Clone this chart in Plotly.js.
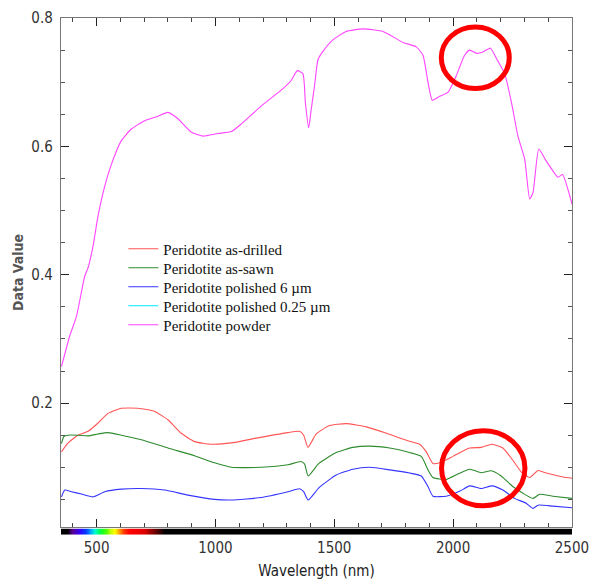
<!DOCTYPE html>
<html>
<head>
<meta charset="utf-8">
<script src="https://cdn.plot.ly/plotly-3.0.1.min.js"></script>
<style>html,body{margin:0;padding:0;background:#fff;}#chart{width:589px;height:581px;}</style>
</head>
<body>
<div id="chart"></div>
<script>
// ---- data ----
const seriesNames = ["Peridotite as-drilled","Peridotite as-sawn","Peridotite polished 6 \u00b5m","Peridotite polished 0.25 \u00b5m","Peridotite powder"];

const drilledWl = [352,379,421,464,506,548,604,674,744,800,856,912,983,1067,1165,1305,1354,1371,1389,1424,1480,1550,1635,1719,1803,1859,1887,1915,1943,1999,2069,2118,2164,2209,2251,2286,2322,2357,2392,2462,2500];
const drilledVal = [0.124,0.1375,0.150,0.156,0.169,0.184,0.192,0.192,0.187,0.174,0.153,0.140,0.136,0.138,0.145,0.154,0.156,0.150,0.131,0.152,0.165,0.168,0.163,0.153,0.142,0.136,0.124,0.106,0.107,0.117,0.130,0.131,0.136,0.130,0.111,0.093,0.084,0.095,0.091,0.085,0.083];

const sawnWl = [352,362,379,421,464,506,548,604,688,800,912,996,1067,1193,1305,1360,1375,1390,1435,1508,1578,1648,1733,1817,1866,1894,1915,1971,2020,2069,2118,2160,2202,2251,2294,2336,2364,2420,2500];
const sawnVal = [0.137,0.148,0.150,0.150,0.149,0.152,0.154,0.150,0.143,0.130,0.118,0.107,0.100,0.100,0.104,0.109,0.105,0.0865,0.106,0.123,0.131,0.133,0.130,0.123,0.117,0.096,0.084,0.081,0.0895,0.097,0.0915,0.0947,0.0865,0.070,0.0594,0.0516,0.058,0.055,0.0516];

const pol6Wl = [352,366,394,436,485,534,604,688,786,884,996,1067,1193,1305,1354,1371,1390,1435,1508,1578,1648,1733,1817,1866,1894,1915,1971,2027,2069,2118,2164,2209,2258,2307,2336,2357,2420,2500];
const pol6Val = [0.054,0.0645,0.062,0.0583,0.054,0.062,0.066,0.067,0.0645,0.0567,0.050,0.049,0.053,0.062,0.0666,0.062,0.049,0.068,0.088,0.097,0.100,0.096,0.091,0.0865,0.070,0.055,0.055,0.0625,0.071,0.067,0.071,0.0645,0.0516,0.044,0.036,0.041,0.0395,0.037];

// polished 0.25 um: not visible in the picture (hidden), legend entry only
const pol025Wl = [null];
const pol025Val = [null];

const powderWl = [352,387,415,450,464,485,506,534,562,604,646,702,758,800,842,899,947,1010,1067,1109,1193,1284,1319,1344,1368,1378,1392,1403,1417,1431,1452,1494,1550,1620,1705,1789,1845,1873,1894,1912,1943,1978,2013,2048,2069,2098,2125,2157,2182,2217,2245,2273,2301,2322,2336,2360,2392,2441,2460,2500];
const powderVal = [0.257,0.305,0.335,0.398,0.411,0.445,0.492,0.538,0.572,0.609,0.627,0.640,0.647,0.653,0.643,0.622,0.616,0.620,0.623,0.635,0.663,0.690,0.703,0.718,0.713,0.669,0.629,0.658,0.695,0.735,0.748,0.766,0.779,0.783,0.779,0.762,0.755,0.742,0.700,0.672,0.678,0.684,0.710,0.742,0.750,0.745,0.747,0.753,0.737,0.713,0.669,0.615,0.580,0.518,0.528,0.596,0.577,0.552,0.556,0.510];

// highlight circles [x0,x1,y0,y1] in data units
const highlights = [[1950,2236,0.690,0.786],[1951,2302,0.040,0.157]];

// visible-spectrum strip colour stops (wavelength nm, colour)
const spectrumStops = [[350,"#000000"],[375,"#000000"],[400,"#5a0090"],[430,"#3000ff"],[455,"#0040ff"],[475,"#00a0ff"],[495,"#00ffd0"],[515,"#00ff40"],[540,"#50ff00"],[560,"#c0ff00"],[578,"#ffff00"],[595,"#ffa000"],[615,"#ff3000"],[640,"#ff0000"],[700,"#e00000"],[740,"#800000"],[785,"#000000"],[2500,"#000000"]];

const xRange = [350, 2500];
const yRange = [0.007, 0.8];
const xTicks = [500,1000,1500,2000,2500];
const yTicks = [0.2,0.4,0.6,0.8];

// ---- build ----
const colors = ["#ff5555","#2e8b2e","#3535ff","#00e8ff","#ff44ff"];
const wls = [drilledWl, sawnWl, pol6Wl, pol025Wl, powderWl];
const vals = [drilledVal, sawnVal, pol6Val, pol025Val, powderVal];

const traces = [];
// strip heatmap
const stripX = [];
for (let w = xRange[0]; w <= 800; w += 4) stripX.push(w);
stripX.push(804, xRange[1]);
const csMin = xRange[0], csMax = xRange[1];
const colorscale = spectrumStops.map(s => [(s[0]-csMin)/(csMax-csMin), s[1]]);
traces.push({
  type: "heatmap", x: stripX, y: [0, 1], z: [stripX, stripX],
  colorscale: colorscale, zmin: csMin, zmax: csMax, showscale: false,
  xaxis: "x2", yaxis: "y2", hoverinfo: "skip", showlegend: false
});
const legendIds = ["legend","legend2","legend3","legend4","legend5"];
for (let k = 0; k < 5; k++) {
  traces.push({
    type: "scatter", mode: "lines", name: seriesNames[k],
    x: wls[k], y: vals[k],
    line: {color: colors[k], width: 1.1, shape: "spline", smoothing: 0.5},
    xaxis: "x", yaxis: "y", legend: legendIds[k], showlegend: true
  });
}

const shapes = highlights.map(h => ({
  type: "circle", xref: "x", yref: "y", x0: h[0], x1: h[1], y0: h[2], y1: h[3],
  line: {color: "#ff0000", width: 5}
}));

const tickFont = {family: "Liberation Sans Narrow, DejaVu Sans Condensed, sans-serif", size: 15, color: "#333333"};

const layout = {
  width: 589, height: 581,
  margin: {l: 61, r: 17, t: 18, b: 46},
  paper_bgcolor: "#ffffff", plot_bgcolor: "#ffffff",
  showlegend: true,
  xaxis: {
    range: xRange, domain: [0, 1], anchor: "y",
    showline: true, linecolor: "#777777", linewidth: 1.2, mirror: "allticks",
    ticks: "inside", ticklen: 8, tickcolor: "#222222", tickvals: xTicks,
    showticklabels: false, showgrid: false, zeroline: false,
    minor: {dtick: 100, tick0: 0, ticks: "inside", ticklen: 4, tickcolor: "#444444", showgrid: false}
  },
  yaxis: {
    range: yRange, domain: [0.0155, 1], anchor: "x",
    showline: true, linecolor: "#777777", linewidth: 1.2, mirror: "allticks",
    ticks: "inside", ticklen: 8, tickcolor: "#222222", tickvals: yTicks,
    tickfont: tickFont, ticklabelstandoff: 4,
    showgrid: false, zeroline: false,
    minor: {dtick: 0.05, tick0: 0, ticks: "inside", ticklen: 4, tickcolor: "#555555", showgrid: false},
    title: {text: "<b>Data Value</b>", font: {family: "DejaVu Sans Condensed, sans-serif", size: 14, color: "#555555"}, standoff: 4}
  },
  xaxis2: {
    range: [xRange[0], xRange[1] + 0.5], domain: [0, 1], anchor: "y2",
    showline: false, ticks: "", tickvals: xTicks, tickfont: tickFont,
    showgrid: false, zeroline: false, ticklabelstandoff: 2, ticklabeloverflow: "allow",
    title: {text: "Wavelength (nm)", font: {family: "DejaVu Sans Condensed, sans-serif", size: 15, color: "#222222"}, standoff: 9}
  },
  yaxis2: {
    domain: [0, 0.0125], anchor: "x2", range: [-0.5, 1.5],
    showticklabels: false, ticks: "", showgrid: false, zeroline: false, showline: false
  },
  shapes: shapes
};
legendIds.forEach((id, k) => {
  layout[id] = {
    x: 0.122, y: 0.585 - 0.03675 * k, xanchor: "left", yanchor: "top",
    font: {family: "Liberation Serif, serif", size: 15, color: "#111111"},
    bgcolor: "rgba(0,0,0,0)", itemwidth: 30
  };
});

Plotly.newPlot("chart", traces, layout, {displayModeBar: false, staticPlot: true});
</script>
</body>
</html>
